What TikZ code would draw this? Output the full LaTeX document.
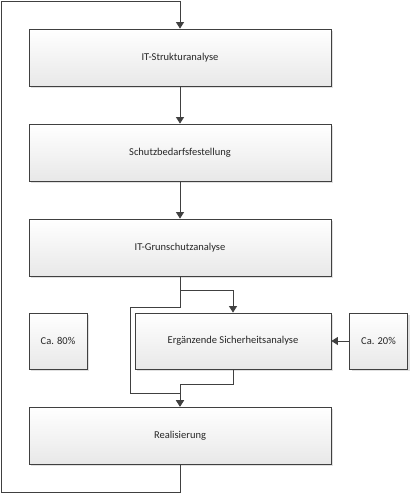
\documentclass[tikz,border=0pt]{standalone}
\usepackage{fontspec}
\setmainfont{Carlito}
\usetikzlibrary{arrows.meta, shadows}

\begin{document}
\begin{tikzpicture}[x=1pt, y=-1pt,
    box/.style={draw=black!75, line width=0.8pt, top color=white, bottom color=black!9,
        drop shadow={shadow xshift=2pt, shadow yshift=-2pt, fill=black!12, opacity=1},
        minimum width=302pt, minimum height=57pt, align=center, inner sep=0pt},
    smallbox/.style={box, minimum width=58pt, minimum height=56pt},
    arr/.style={-{Triangle[length=6.5pt, width=8pt]}, draw=black!75, line width=0.8pt},
    every node/.style={font=\fontsize{10.5}{12}\selectfont, text=black!85}
]
    \useasboundingbox (0,0) rectangle (410,494);

    % main chain
    \node[box] (strukt) at (180, 57.5) {IT-Strukturanalyse};
    \node[box] (schutz) at (180, 152.5) {Schutzbedarfsfestellung};
    \node[box] (grund) at (180, 247.5) {IT-Grunschutzanalyse};
    \node[box, minimum width=196pt, minimum height=56pt] (erg) at (233, 341) {Ergänzende Sicherheitsanalyse};
    \node[box] (real) at (180, 435.5) {Realisierung};

    % side boxes
    \node[smallbox] (ca80) at (58, 341) {Ca. 80\%};
    \node[smallbox] (ca20) at (378.5, 341) {Ca. 20\%};

    % helper points
    \coordinate (looptl) at (1, 1);
    \coordinate (loopbl) at (1, 492);
    \coordinate (bypt) at (130, 307);
    \coordinate (bypb) at (130, 393);
    \coordinate (join) at (180, 384);

    % arrows
    \draw[arr] (strukt) -- (schutz);
    \draw[arr] (schutz) -- (grund);
    \draw[arr] (grund.south) -- ++(0, 14) -| (erg.north);
    \draw[arr] (grund.south) |- (bypt) -- (bypb) -| (real.north);
    \draw[arr] (erg.south) |- (join) -- (real.north);
    \draw[arr] (ca20) -- (erg);
    \draw[arr] (real.south) |- (loopbl) -- (looptl) -| (strukt.north);
\end{tikzpicture}
\end{document}
